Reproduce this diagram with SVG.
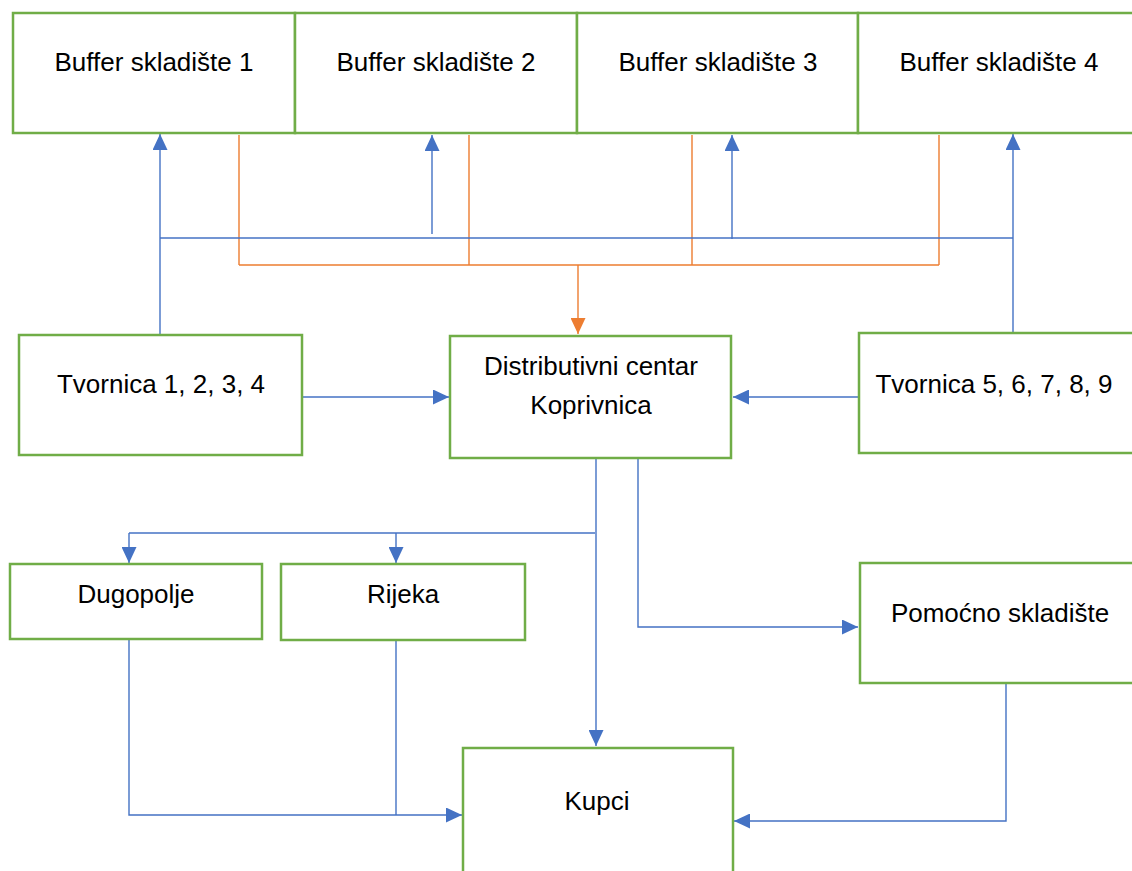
<svg xmlns="http://www.w3.org/2000/svg" width="1132" height="871" viewBox="0 0 1132 871">
<style>
.box{fill:#fff;stroke:#70AD47;stroke-width:2.5}
.lbl{font-family:"Liberation Sans",Arial,sans-serif;font-size:26px;fill:#000;text-anchor:middle}
.b{fill:none;stroke:#4472C4;stroke-width:1.4}
.o{fill:none;stroke:#ED7D31;stroke-width:1.4}
</style>
<defs>
<marker id="ab" markerUnits="userSpaceOnUse" markerWidth="17" markerHeight="15" refX="16" refY="7.5" orient="auto"><path d="M0,0 L16,7.5 L0,15 Z" fill="#4472C4"/></marker>
<marker id="ao" markerUnits="userSpaceOnUse" markerWidth="17" markerHeight="15" refX="16" refY="7.5" orient="auto"><path d="M0,0 L16,7.5 L0,15 Z" fill="#ED7D31"/></marker>
</defs>
<rect width="1132" height="871" fill="#fff"/>
<g id="connectors">
<path class="o" d="M239,135 V265 M469,135 V265 M692,135 V265 M939,135 V265 M239,265 H939"/>
<path class="o" d="M578,265 V334" marker-end="url(#ao)"/>
<path class="b" d="M160,335 V134" marker-end="url(#ab)"/>
<path class="b" d="M160,238 H1013"/>
<path class="b" d="M432,234 V135" marker-end="url(#ab)"/>
<path class="b" d="M732,239 V135" marker-end="url(#ab)"/>
<path class="b" d="M1013,333 V134" marker-end="url(#ab)"/>
<path class="b" d="M302,397 H449" marker-end="url(#ab)"/>
<path class="b" d="M858,397 H733" marker-end="url(#ab)"/>
<path class="b" d="M596,459 V746" marker-end="url(#ab)"/>
<path class="b" d="M595,533 H129"/>
<path class="b" d="M129,533 V563" marker-end="url(#ab)"/>
<path class="b" d="M396,533 V563" marker-end="url(#ab)"/>
<path class="b" d="M638,459 V627 H858" marker-end="url(#ab)"/>
<path class="b" d="M129,640 V815 H462" marker-end="url(#ab)"/>
<path class="b" d="M396,641 V815"/>
<path class="b" d="M1006,684 V821 H734" marker-end="url(#ab)"/>
</g>
<g id="buffer1"><rect class="box" x="13" y="13" width="282" height="120"/><text class="lbl" x="154" y="71">Buffer skladište 1</text></g>
<g id="buffer2"><rect class="box" x="295" y="13" width="282" height="120"/><text class="lbl" x="436" y="71">Buffer skladište 2</text></g>
<g id="buffer3"><rect class="box" x="577" y="13" width="281" height="120"/><text class="lbl" x="718" y="71">Buffer skladište 3</text></g>
<g id="buffer4"><rect class="box" x="858" y="13" width="290" height="120"/><text class="lbl" x="999" y="71">Buffer skladište 4</text></g>
<g id="tvornica1"><rect class="box" x="19" y="335" width="283" height="120"/><text class="lbl" x="161" y="393">Tvornica 1, 2, 3, 4</text></g>
<g id="distributivni"><rect class="box" x="450" y="336" width="281" height="122"/><text class="lbl" x="591" y="375">Distributivni centar</text><text class="lbl" x="591" y="414">Koprivnica</text></g>
<g id="tvornica5"><rect class="box" x="859" y="333" width="290" height="120"/><text class="lbl" x="994" y="393">Tvornica 5, 6, 7, 8, 9</text></g>
<g id="dugopolje"><rect class="box" x="10" y="564" width="252" height="75"/><text class="lbl" x="136" y="603">Dugopolje</text></g>
<g id="rijeka"><rect class="box" x="281" y="564" width="244" height="76"/><text class="lbl" x="403" y="603">Rijeka</text></g>
<g id="pomocno"><rect class="box" x="860" y="563" width="290" height="120"/><text class="lbl" x="1000" y="622">Pomoćno skladište</text></g>
<g id="kupci"><rect class="box" x="463" y="748" width="270" height="135"/><text class="lbl" x="597" y="810">Kupci</text></g>
</svg>
